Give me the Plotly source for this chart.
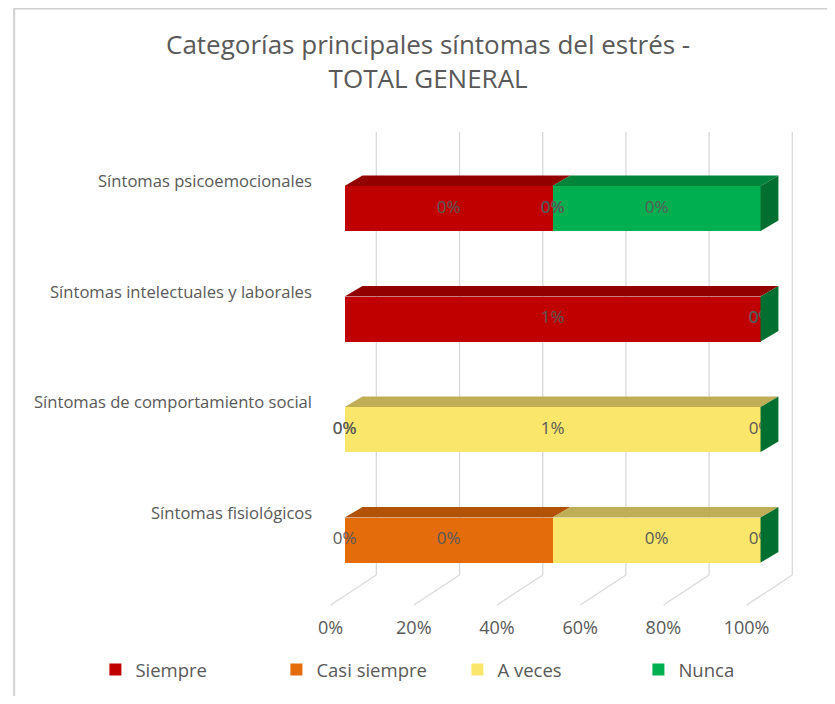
import plotly.graph_objects as go

# ---------------- data ----------------
categories = [
    "Síntomas psicoemocionales",
    "Síntomas intelectuales y laborales",
    "Síntomas de comportamiento social",
    "Síntomas fisiológicos",
]
series_names = ["Siempre", "Casi siempre", "A veces", "Nunca"]
siempre = [0.004, 0.007, 0.0, 0.0]
casi_siempre = [0.0, 0.0, 0.0, 0.003]
a_veces = [0.0, 0.0, 0.007, 0.003]
nunca = [0.004, 0.0, 0.0, 0.0]
x_ticks = [0, 20, 40, 60, 80, 100]
x_tick_labels = ["0%", "20%", "40%", "60%", "80%", "100%"]
title_text = "Categorías principales síntomas del estrés -<br>TOTAL GENERAL"

# ---------------- styles ----------------
front_colors = ["#C00000", "#E46C0A", "#F9E66B", "#00B050"]
top_colors = ["#920000", "#B25207", "#BFAE55", "#00843B"]
side_color = "#006F2F"
font_family = "'Open Sans', Lato, sans-serif"
text_color = "#595959"
grid_color = "#D9D9D9"

OFF = 8                          # page body margin
W, H = 835 - OFF, 704 - 2 * OFF  # figure size


def fx(px):  # reference pixel x -> paper fraction
    return (px - OFF) / W


def fy(py):  # reference pixel y -> paper fraction
    return (H - (py - OFF)) / H


PX_PER_X = 4.19      # px per percent unit
X0_PX = 341          # reference px of 0%
X_RANGE = [-5, 110]
PX_PER_Y = 110.5
Y_RANGE = [-0.615, 3.75]
Y_BOTTOM_PX = 608
BAR_W = 0.407
DX = 18 / PX_PER_X       # depth offset (x)
DY = 10.5 / PX_PER_Y     # depth offset (y)
BACK_DX = 32 / PX_PER_X
FLOOR_DX = -14 / PX_PER_X
GRID_TOP = (Y_BOTTOM_PX - 132) / PX_PER_Y + Y_RANGE[0]
GRID_BOTTOM = (Y_BOTTOM_PX - 575) / PX_PER_Y + Y_RANGE[0]
FLOOR_FRONT = (Y_BOTTOM_PX - 605) / PX_PER_Y + Y_RANGE[0]

series_values = [siempre, casi_siempre, a_veces, nunca]
n = len(categories)
ypos = [n - 1 - i for i in range(n)]
totals = [sum(s[i] for s in series_values) for i in range(n)]
pcts = [[s[i] / totals[i] * 100 for i in range(n)] for s in series_values]

fig = go.Figure()
for k, name in enumerate(series_names):
    fig.add_trace(go.Bar(
        name=name, orientation="h", x=pcts[k], y=ypos, width=BAR_W,
        marker=dict(color=front_colors[k], line=dict(width=0)),
        hoverinfo="skip",
    ))

shapes = []
# back-wall gridlines and floor lines
for t in x_ticks:
    shapes.append(dict(type="line", xref="x", yref="y", layer="below",
                       x0=t + BACK_DX, x1=t + BACK_DX, y0=GRID_BOTTOM, y1=GRID_TOP,
                       line=dict(color=grid_color, width=1.3)))
    shapes.append(dict(type="line", xref="x", yref="y", layer="below",
                       x0=t + BACK_DX, x1=t + FLOOR_DX, y0=GRID_BOTTOM, y1=FLOOR_FRONT,
                       line=dict(color=grid_color, width=1.3)))

# 3D top faces and right side faces, derived from the stacked values
lab_x, lab_y, lab_t = [], [], []
for i in range(n):
    yt = ypos[i] + BAR_W / 2
    yb = ypos[i] - BAR_W / 2
    cum = 0.0
    for k in range(len(series_names)):
        v = pcts[k][i]
        x0, x1 = cum, cum + v
        if v > 0:
            shapes.append(dict(
                type="path", xref="x", yref="y", layer="above",
                path=f"M{x0},{yt} L{x1},{yt} L{x1 + DX},{yt + DY} L{x0 + DX},{yt + DY} Z",
                fillcolor=top_colors[k], line=dict(width=0)))
        lab_x.append((x0 + x1) / 2)
        lab_y.append(ypos[i])
        lab_t.append(f"{round(series_values[k][i] * 100):.0f}%")
        cum = x1
    shapes.append(dict(
        type="path", xref="x", yref="y", layer="above",
        path=f"M{cum},{yb} L{cum},{yt} L{cum + DX},{yt + DY} L{cum + DX},{yb + DY} Z",
        fillcolor=side_color, line=dict(width=0)))

fig.add_trace(go.Scatter(
    x=lab_x, y=lab_y, text=lab_t, mode="text", showlegend=False,
    textfont=dict(family=font_family, size=17, color=text_color),
    textposition="middle center", cliponaxis=False, hoverinfo="skip"))

# outer frame
shapes.append(dict(type="rect", xref="paper", yref="paper",
                   x0=fx(8.2), x1=1.02, y0=-0.02, y1=fy(8.5),
                   line=dict(color="#D0D0D0", width=2), fillcolor="rgba(0,0,0,0)"))

annotations = []
for i, c in enumerate(categories):
    annotations.append(dict(
        text=c, xref="paper", yref="y", x=fx(310), y=ypos[i], yshift=28,
        xanchor="right", yanchor="middle", showarrow=False,
        font=dict(family=font_family, size=16.6, color=text_color)))
annotations.append(dict(
    text=title_text, xref="paper", yref="paper", x=fx(425), y=fy(61),
    xanchor="center", yanchor="middle", showarrow=False, align="center",
    font=dict(family=font_family, size=26, color=text_color)))

x_dom = [fx(X0_PX + X_RANGE[0] * PX_PER_X), fx(X0_PX + X_RANGE[1] * PX_PER_X)]
y_top_px = Y_BOTTOM_PX - (Y_RANGE[1] - Y_RANGE[0]) * PX_PER_Y
y_dom = [fy(Y_BOTTOM_PX), fy(y_top_px)]

fig.update_layout(
    width=W, height=H, margin=dict(l=0, r=0, t=0, b=0),
    paper_bgcolor="white", plot_bgcolor="rgba(0,0,0,0)",
    barmode="stack", bargap=0,
    shapes=shapes, annotations=annotations,
    xaxis=dict(domain=x_dom, range=X_RANGE, tickvals=x_ticks, ticktext=x_tick_labels,
               showgrid=False, zeroline=False, showline=False, ticks="",
               ticklabelshift=-14, ticklabelstandoff=7, tickangle=0,
               tickfont=dict(family=font_family, size=18, color=text_color)),
    yaxis=dict(domain=y_dom, range=Y_RANGE, showgrid=False, zeroline=False,
               showline=False, showticklabels=False, ticks=""),
    legend=dict(orientation="h", x=fx(90), y=fy(670), xanchor="left",
                yanchor="middle", entrywidth=136, entrywidthmode="pixels",
                traceorder="normal", bgcolor="rgba(0,0,0,0)",
                font=dict(family=font_family, size=18.5, color=text_color)),
    showlegend=True,
)

fig.write_html("out.html")
